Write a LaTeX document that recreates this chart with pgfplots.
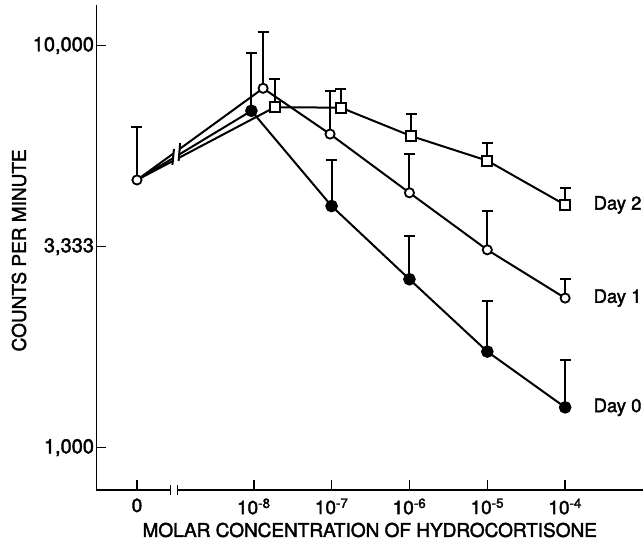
\documentclass[border=0pt]{standalone}
\usepackage{fontspec}
\setmainfont{TeX Gyre Heros}[FakeBold=2]
\usepackage{pgfplots}
\pgfplotsset{compat=1.18}
\usepackage{pgfplotstable}

\pgfplotstableread{
x y ep
0 4634 1634
1.47 6887 2686
2.5 3992 1208
3.5 2624 742
4.5 1734 583
5.5 1260 393
}\dayzero
\pgfplotstableread{
x y ep
0 4634 1634
1.62 7834 3001
2.48 6028 1700
3.5 4306 1073
4.5 3106 774
5.5 2356 275
}\dayone
\pgfplotstableread{
x y ep
0 4634 1634
1.77 7030 1231
2.62 7012 788
3.52 5961 789
4.5 5175 567
5.5 4018 398
}\daytwo

\newcommand{\tf}{\fontsize{19}{21}\selectfont}
\newcommand{\yf}{\fontsize{20}{22}\selectfont}
\newcommand{\df}{\fontsize{18.5}{21}\selectfont}
\pgfplotsset{
  myerr/.style={error bars/.cd, y dir=plus, y explicit,
    error bar style={line width=2pt, black},
    error mark options={line width=2pt, mark size=5.5pt, black, rotate=90}},
}

\begin{document}
\begin{tikzpicture}
\useasboundingbox (-96.5pt,-53pt) rectangle (546.5pt,490pt);
\begin{axis}[
  at={(0,0)}, anchor=south west,
  scale only axis, width=546.5pt, height=485pt,
  xmin=-0.52, xmax=6.5, ymin=785, ymax=12625, ymode=log,
  axis x line=bottom, axis y line=left,
  axis line style={-, line width=1.5pt},
  tick align=inside, major tick length=10pt,
  tick style={line width=1.5pt, black},
  xtick={0,1.5,2.5,3.5,4.5,5.5},
  xticklabels={{\tf 0},{\tf 10\textsuperscript{-8}},{\tf 10\textsuperscript{-7}},{\tf 10\textsuperscript{-6}},{\tf 10\textsuperscript{-5}},{\tf 10\textsuperscript{-4}}},
  ytick={1000,3162.28,10000},
  yticklabels={{\yf 1,000},{\yf 3,333},{\yf 10,000}},
  minor tick num=0,
  xticklabel style={font=\tf, yshift=-5pt},
  yticklabel style={font=\yf, xshift=1pt},
  xlabel={MOLAR CONCENTRATION OF HYDROCORTISONE},
  ylabel={COUNTS PER MINUTE},
  xlabel style={font=\tf, at={(axis description cs:0.5,-0.0825)}, anchor=center},
  ylabel style={font=\tf, at={(axis description cs:-0.1418,0.494)}, anchor=center},
  clip=false,
]
\addplot[black, line width=2pt, mark=square*, mark size=5pt, mark indices={2,3,4,5,6},
  mark options={fill=white, line width=1.8pt}, myerr]
  table[x=x, y=y, y error plus=ep]{\daytwo};
\addplot[black, line width=2pt, mark=*, mark size=5.3pt, mark indices={2,3,4,5,6},
  mark options={fill=black}, myerr]
  table[x=x, y=y, y error plus=ep]{\dayzero};
\addplot[black, line width=2pt, mark=*, mark size=4.6pt,
  mark options={fill=white, line width=1.8pt}, myerr]
  table[x=x, y=y, y error plus=ep]{\dayone};

\fill[white] (axis cs:0.47,5000) rectangle (axis cs:0.54,5850);
\draw[line width=2pt] (axis cs:0.455,5050) -- (axis cs:0.475,5534);
\draw[line width=2pt] (axis cs:0.535,5166) -- (axis cs:0.555,5727);
\fill[white] ([yshift=-3pt]axis cs:0.435,785) rectangle ([yshift=3pt]axis cs:0.515,785);
\draw[line width=1.5pt] ([yshift=-5pt]axis cs:0.43,785) -- ([yshift=5pt]axis cs:0.43,785);
\draw[line width=1.5pt] ([yshift=-5pt]axis cs:0.52,785) -- ([yshift=5pt]axis cs:0.52,785);

\node[anchor=west, font=\df] at (axis cs:5.82,4018) {Day 2};
\node[anchor=west, font=\df] at (axis cs:5.82,2356) {Day 1};
\node[anchor=west, font=\df] at (axis cs:5.82,1260) {Day 0};
\end{axis}
\end{tikzpicture}
\end{document}
